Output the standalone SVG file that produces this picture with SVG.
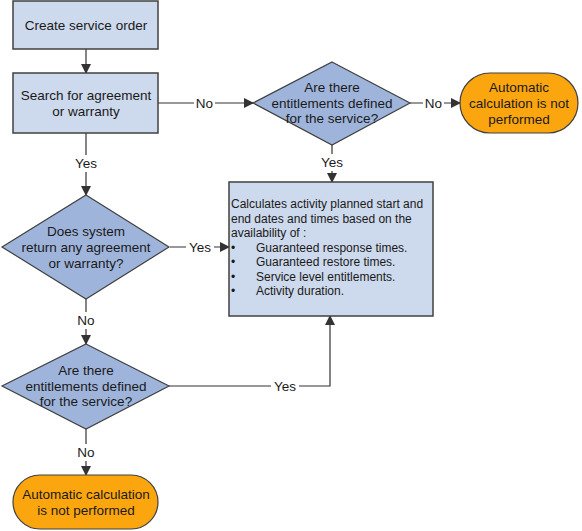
<svg xmlns="http://www.w3.org/2000/svg" width="582" height="531" viewBox="0 0 582 531">
<defs>
<marker id="ah" markerWidth="10" markerHeight="10" refX="9" refY="5" orient="auto" markerUnits="userSpaceOnUse">
<path d="M0,0 L10,5 L0,10 Z" fill="#333333"/>
</marker>
<style>
.box{fill:#cdd9ec;stroke:#404040;stroke-width:1.5}
.dia{fill:#9fb4db;stroke:#404040;stroke-width:1.2}
.term{fill:#fca60f;stroke:#404040;stroke-width:1.2}
.t{font-family:"Liberation Sans",Arial,sans-serif;font-size:13.5px;fill:#1a1a1a;text-anchor:middle;dominant-baseline:central}
.s{font-family:"Liberation Sans",Arial,sans-serif;font-size:12px;fill:#1a1a1a;dominant-baseline:central}
.c{fill:none;stroke:#333333;stroke-width:1.2}
.lb{font-family:"Liberation Sans",Arial,sans-serif;font-size:13.5px;fill:#1a1a1a;text-anchor:middle;dominant-baseline:central}
.bg{fill:#ffffff}
</style>
</defs>
<rect width="582" height="531" fill="#ffffff"/>
<g id="connectors">
<line class="c" x1="86" y1="49" x2="86" y2="73" marker-end="url(#ah)"/>
<line class="c" x1="158" y1="103" x2="253" y2="103" marker-end="url(#ah)"/>
<line class="c" x1="410" y1="103" x2="460" y2="103" marker-end="url(#ah)"/>
<line class="c" x1="332" y1="145" x2="332" y2="182" marker-end="url(#ah)"/>
<line class="c" x1="86" y1="133" x2="86" y2="195" marker-end="url(#ah)"/>
<line class="c" x1="170" y1="247" x2="229" y2="247" marker-end="url(#ah)"/>
<line class="c" x1="86" y1="299" x2="86" y2="344" marker-end="url(#ah)"/>
<polyline class="c" points="169,386 330,386 330,316" marker-end="url(#ah)"/>
<line class="c" x1="86" y1="429" x2="86" y2="475" marker-end="url(#ah)"/>
<rect class="bg" x="194" y="95" width="21" height="16"/>
<text class="lb" x="204.5" y="103">No</text>
<rect class="bg" x="423" y="95" width="21" height="16"/>
<text class="lb" x="433.5" y="103">No</text>
<rect class="bg" x="318" y="154" width="28" height="17"/>
<text class="lb" x="332" y="162">Yes</text>
<rect class="bg" x="72" y="155" width="28" height="17"/>
<text class="lb" x="86" y="163">Yes</text>
<rect class="bg" x="186" y="239" width="28" height="17"/>
<text class="lb" x="200" y="247">Yes</text>
<rect class="bg" x="75" y="312" width="22" height="17"/>
<text class="lb" x="86" y="320">No</text>
<rect class="bg" x="271" y="378" width="28" height="17"/>
<text class="lb" x="285" y="386">Yes</text>
<rect class="bg" x="75" y="444" width="22" height="17"/>
<text class="lb" x="86" y="452">No</text>
</g>
<g id="create">
<rect class="box" x="13" y="1" width="145" height="48"/>
<text class="t" x="86" y="25">Create service order</text>
</g>
<g id="search">
<rect class="box" x="13" y="73" width="145" height="60"/>
<text class="t" x="86" y="95">Search for agreement</text>
<text class="t" x="86" y="111">or warranty</text>
</g>
<g id="entitlements-top">
<polygon class="dia" points="332,62 410,103 332,145 253,103"/>
<text class="t" x="332" y="87">Are there</text>
<text class="t" x="332" y="103">entitlements defined</text>
<text class="t" x="332" y="118">for the service?</text>
</g>
<g id="auto-top">
<rect class="term" x="460" y="73" width="118" height="60" rx="30" ry="30"/>
<text class="t" x="519" y="87">Automatic</text>
<text class="t" x="519" y="103">calculation is not</text>
<text class="t" x="519" y="119">performed</text>
</g>
<g id="does-system">
<polygon class="dia" points="86,195 169,247 86,299 2,247"/>
<text class="t" x="86" y="231">Does system</text>
<text class="t" x="86" y="247">return any agreement</text>
<text class="t" x="86" y="263">or warranty?</text>
</g>
<g id="calculates">
<rect class="box" x="229" y="182" width="204" height="134"/>
<text class="s" x="231" y="204">Calculates activity planned start and</text>
<text class="s" x="231" y="219">end dates and times based on the</text>
<text class="s" x="231" y="233">availability of :</text>
<text class="s" x="231" y="247.5">•</text>
<text class="s" x="256" y="247.5">Guaranteed response times.</text>
<text class="s" x="231" y="262">•</text>
<text class="s" x="256" y="262">Guaranteed restore times.</text>
<text class="s" x="231" y="276.5">•</text>
<text class="s" x="256" y="276.5">Service level entitlements.</text>
<text class="s" x="231" y="291">•</text>
<text class="s" x="256" y="291">Activity duration.</text>
</g>
<g id="entitlements-bottom">
<polygon class="dia" points="86,344 169,386 86,429 2,386"/>
<text class="t" x="86" y="370">Are there</text>
<text class="t" x="86" y="386">entitlements defined</text>
<text class="t" x="86" y="401">for the service?</text>
</g>
<g id="auto-bottom">
<rect class="term" x="13" y="475" width="145" height="54" rx="27" ry="27"/>
<text class="t" x="86" y="494">Automatic calculation</text>
<text class="t" x="86" y="510">is not performed</text>
</g>
</svg>
